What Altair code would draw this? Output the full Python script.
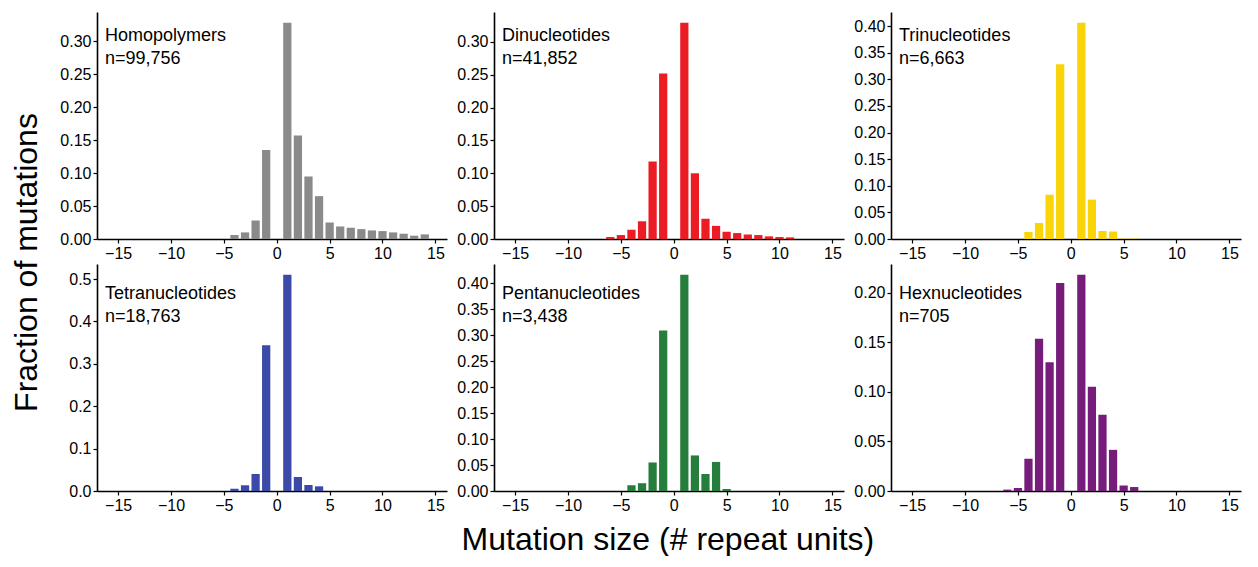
import altair as alt
import pandas as pd

# ---- data ----
names = ["Homopolymers", "Dinucleotides", "Trinucleotides",
         "Tetranucleotides", "Pentanucleotides", "Hexnucleotides"]
counts = ["99,756", "41,852", "6,663", "18,763", "3,438", "705"]
colors = ["#8a8a8a", "#ec1c24", "#f8d408", "#3a4aa6", "#257e3b", "#761d7c"]

homo_sizes = [-4, -3, -2, -1, 1, 2, 3, 4, 5, 6, 7, 8, 9, 10, 11, 12, 13, 14]
homo_frac = [0.006, 0.010, 0.028, 0.135, 0.328, 0.157, 0.095, 0.065, 0.025,
             0.019, 0.017, 0.015, 0.013, 0.012, 0.010, 0.008, 0.005, 0.007]

di_sizes = [-6, -5, -4, -3, -2, -1, 1, 2, 3, 4, 5, 6, 7, 8, 9, 10, 11]
di_frac = [0.003, 0.006, 0.014, 0.027, 0.118, 0.252, 0.329, 0.100, 0.031,
           0.020, 0.011, 0.009, 0.007, 0.006, 0.004, 0.003, 0.0025]

tri_sizes = [-4, -3, -2, -1, 1, 2, 3, 4, 5, 6]
tri_frac = [0.013, 0.030, 0.083, 0.328, 0.406, 0.074, 0.015, 0.014, 0.001, 0.001]

tetra_sizes = [-4, -3, -2, -1, 1, 2, 3, 4]
tetra_frac = [0.0056, 0.0135, 0.040, 0.344, 0.510, 0.033, 0.014, 0.011]

penta_sizes = [-4, -3, -2, -1, 1, 2, 3, 4, 5]
penta_frac = [0.011, 0.015, 0.055, 0.309, 0.4165, 0.0685, 0.0326, 0.056, 0.004]

hexa_sizes = [-6, -5, -4, -3, -2, -1, 1, 2, 3, 4, 5, 6]
hexa_frac = [0.0014, 0.003, 0.0325, 0.1536, 0.1298, 0.2097, 0.218, 0.105,
             0.0768, 0.0415, 0.0055, 0.004]

x_ticks = [-15, -10, -5, 0, 5, 10, 15]
y_ticks = [
    [0.0, 0.05, 0.10, 0.15, 0.20, 0.25, 0.30],
    [0.0, 0.05, 0.10, 0.15, 0.20, 0.25, 0.30],
    [0.0, 0.05, 0.10, 0.15, 0.20, 0.25, 0.30, 0.35, 0.40],
    [0.0, 0.1, 0.2, 0.3, 0.4, 0.5],
    [0.0, 0.05, 0.10, 0.15, 0.20, 0.25, 0.30, 0.35, 0.40],
    [0.0, 0.05, 0.10, 0.15, 0.20],
]
y_formats = [".2f", ".2f", ".2f", ".1f", ".2f", ".2f"]

series = [(homo_sizes, homo_frac), (di_sizes, di_frac), (tri_sizes, tri_frac),
          (tetra_sizes, tetra_frac), (penta_sizes, penta_frac), (hexa_sizes, hexa_frac)]

FONT = "Liberation Sans"
W, H = 350, 227


def panel(i):
    sizes, fracs = series[i]
    df = pd.DataFrame({"size": sizes, "frac": fracs})
    ymax = max(fracs) * 1.05
    bars = alt.Chart(df).transform_calculate(
        x0="datum.size - 0.39", x1="datum.size + 0.39"
    ).mark_bar(color=colors[i]).encode(
        x=alt.X("x0:Q",
                scale=alt.Scale(domain=[-17, 16.1], nice=False, zero=False),
                axis=alt.Axis(values=x_ticks, title=None, format="d")),
        x2="x1:Q",
        y=alt.Y("frac:Q",
                scale=alt.Scale(domain=[0, ymax], nice=False),
                axis=alt.Axis(values=y_ticks[i], format=y_formats[i], title=None)),
        y2=alt.datum(0),
    )
    label_y = 29 if i < 3 else 35
    txt = alt.Chart(pd.DataFrame({"t": [names[i] + "\nn=" + counts[i]]})).mark_text(
        align="left", baseline="alphabetic", fontSize=18, font=FONT,
        lineBreak="\n", lineHeight=22.7, color="black"
    ).encode(text="t:N", x=alt.value(8), y=alt.value(label_y))
    return alt.layer(bars, txt).properties(width=W, height=H)


grid = alt.concat(
    *[panel(i) for i in range(6)], columns=3,
    spacing={"row": 3, "column": 9},
    title=alt.TitleParams("Fraction of mutations", orient="left", anchor="middle",
                          fontSize=32, font=FONT, fontWeight="normal",
                          color="black", offset=16),
)

chart = alt.vconcat(
    grid,
    title=alt.TitleParams("Mutation size (# repeat units)", orient="bottom",
                          anchor="middle", fontSize=32, font=FONT,
                          fontWeight="normal", color="black", offset=12, dx=42),
).properties(
    padding={"left": 2, "top": 4, "right": 2, "bottom": 0}
).configure_view(stroke=None).configure_axis(
    domainColor="black", domainWidth=1.6, tickColor="black", tickWidth=1.2,
    tickSize=4, labelFontSize=16, labelFont=FONT, labelColor="black",
    grid=False, labelPadding=2,
)

chart.save("out.html", embed_options={"renderer": "svg", "actions": False})
